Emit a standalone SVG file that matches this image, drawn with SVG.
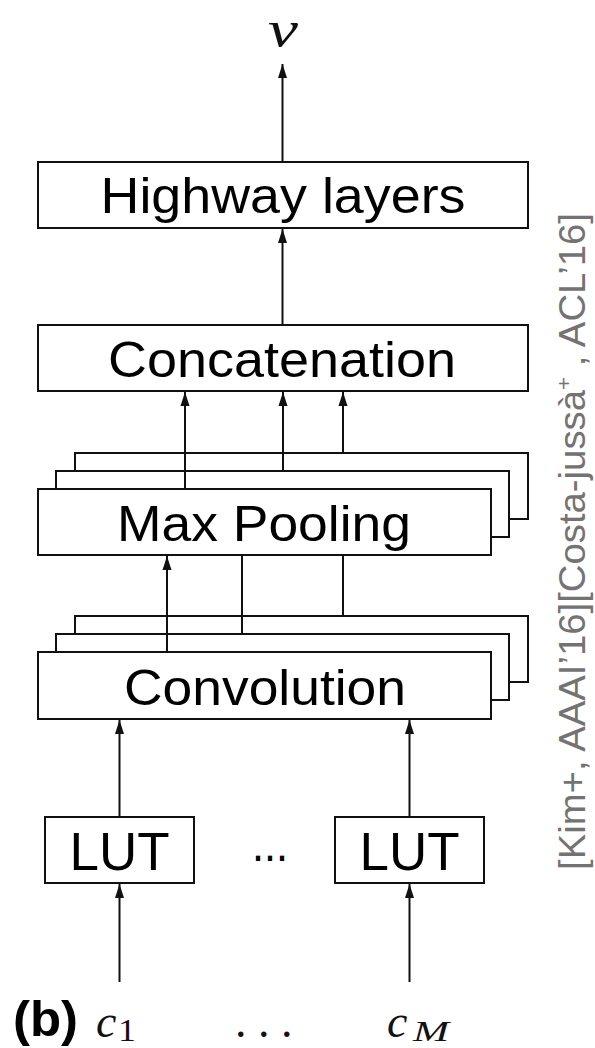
<svg xmlns="http://www.w3.org/2000/svg" width="595" height="1048" viewBox="0 0 595 1048">
  <style>
    .box { fill: #ffffff; stroke: #111111; stroke-width: 2; }
    .lbl { font-family: "Liberation Sans", Arial, sans-serif; font-size: 50px; fill: #000000; text-anchor: middle; }
    .lut { font-family: "Liberation Sans", Arial, sans-serif; font-size: 54px; fill: #000000; text-anchor: middle; }
    .math { font-family: "Liberation Serif", "Times New Roman", serif; font-style: italic; fill: #111111; }
    .mathup { font-family: "Liberation Serif", "Times New Roman", serif; fill: #111111; }
    .edge { stroke: #111111; stroke-width: 2; fill: none; }
    .cite { font-family: "Liberation Sans", Arial, sans-serif; font-size: 36px; fill: #737373; }
  </style>
  <defs>
    <marker id="ah" markerUnits="userSpaceOnUse" markerWidth="14" markerHeight="10" refX="14" refY="5" orient="auto">
      <path d="M0,0.5 L14,5 L0,9.5 z" fill="#111111"/>
    </marker>
  </defs>
  <rect width="595" height="1048" fill="#ffffff"/>

  <g id="highway">
    <rect class="box" x="38" y="162" width="490" height="66"/>
    <text class="lbl" x="283" y="213" textLength="365" lengthAdjust="spacingAndGlyphs">Highway layers</text>
  </g>
  <g id="concatenation">
    <rect class="box" x="38" y="325" width="490" height="66"/>
    <text class="lbl" x="282" y="377" textLength="348" lengthAdjust="spacingAndGlyphs">Concatenation</text>
  </g>
  <g id="maxpooling">
    <rect class="box" x="75" y="453" width="453" height="66"/>
    <rect class="box" x="56" y="471" width="453" height="66"/>
    <rect class="box" x="38" y="489" width="453" height="66"/>
    <text class="lbl" x="264" y="541" textLength="294" lengthAdjust="spacingAndGlyphs">Max Pooling</text>
  </g>
  <g id="convolution">
    <rect class="box" x="75" y="616" width="453" height="66"/>
    <rect class="box" x="56" y="634" width="453" height="66"/>
    <rect class="box" x="38" y="652" width="453" height="67"/>
    <text class="lbl" x="265" y="705" textLength="282" lengthAdjust="spacingAndGlyphs">Convolution</text>
  </g>
  <g id="lut1">
    <rect class="box" x="45" y="817" width="149" height="66"/>
    <text class="lut" x="119.5" y="870" textLength="100" lengthAdjust="spacingAndGlyphs">LUT</text>
  </g>
  <g id="lut-dots">
    <text class="lbl" x="270" y="861" font-size="42" textLength="36" lengthAdjust="spacingAndGlyphs">...</text>
  </g>
  <g id="lutM">
    <rect class="box" x="335" y="817" width="149" height="66"/>
    <text class="lut" x="409.5" y="870" textLength="100" lengthAdjust="spacingAndGlyphs">LUT</text>
  </g>

  <g id="output-v">
    <text class="math" x="283" y="46" font-size="50" text-anchor="middle" textLength="30" lengthAdjust="spacingAndGlyphs">v</text>
  </g>
  <g id="inputs">
    <text x="13" y="1036" font-family="'Liberation Sans', Arial, sans-serif" font-weight="bold" font-size="50" fill="#000000" textLength="65" lengthAdjust="spacingAndGlyphs">(b)</text>
    <text class="math" x="96" y="1037" font-size="46">c</text>
    <text class="mathup" x="118" y="1041" font-size="31" textLength="18" lengthAdjust="spacingAndGlyphs">1</text>
    <text class="mathup" x="235" y="1037" font-size="46">. . .</text>
    <text class="math" x="387" y="1037" font-size="46">c</text>
    <text class="math" x="413" y="1041" font-size="30" textLength="36" lengthAdjust="spacingAndGlyphs">M</text>
  </g>

  <g id="citation">
    <text class="cite" transform="translate(585,870) rotate(-90)" textLength="657" lengthAdjust="spacingAndGlyphs">[Kim+, AAAI’16][Costa-jussà<tspan font-size="21" dy="-14">+</tspan><tspan dy="14"> , ACL’16]</tspan></text>
  </g>

  <g id="connectors">
    <line class="edge" x1="282.5" y1="162" x2="282.5" y2="64" marker-end="url(#ah)"/>
    <line class="edge" x1="282.5" y1="325" x2="282.5" y2="229" marker-end="url(#ah)"/>
    <line class="edge" x1="185" y1="489" x2="185" y2="392" marker-end="url(#ah)"/>
    <line class="edge" x1="283" y1="471" x2="283" y2="392" marker-end="url(#ah)"/>
    <line class="edge" x1="343" y1="453" x2="343" y2="392" marker-end="url(#ah)"/>
    <line class="edge" x1="167" y1="652" x2="167" y2="556" marker-end="url(#ah)"/>
    <line class="edge" x1="242" y1="634" x2="242" y2="555"/>
    <line class="edge" x1="343" y1="616" x2="343" y2="555"/>
    <line class="edge" x1="119.5" y1="817" x2="119.5" y2="720" marker-end="url(#ah)"/>
    <line class="edge" x1="409.5" y1="817" x2="409.5" y2="720" marker-end="url(#ah)"/>
    <line class="edge" x1="119.5" y1="982" x2="119.5" y2="884" marker-end="url(#ah)"/>
    <line class="edge" x1="409.5" y1="982" x2="409.5" y2="884" marker-end="url(#ah)"/>
  </g>
</svg>
